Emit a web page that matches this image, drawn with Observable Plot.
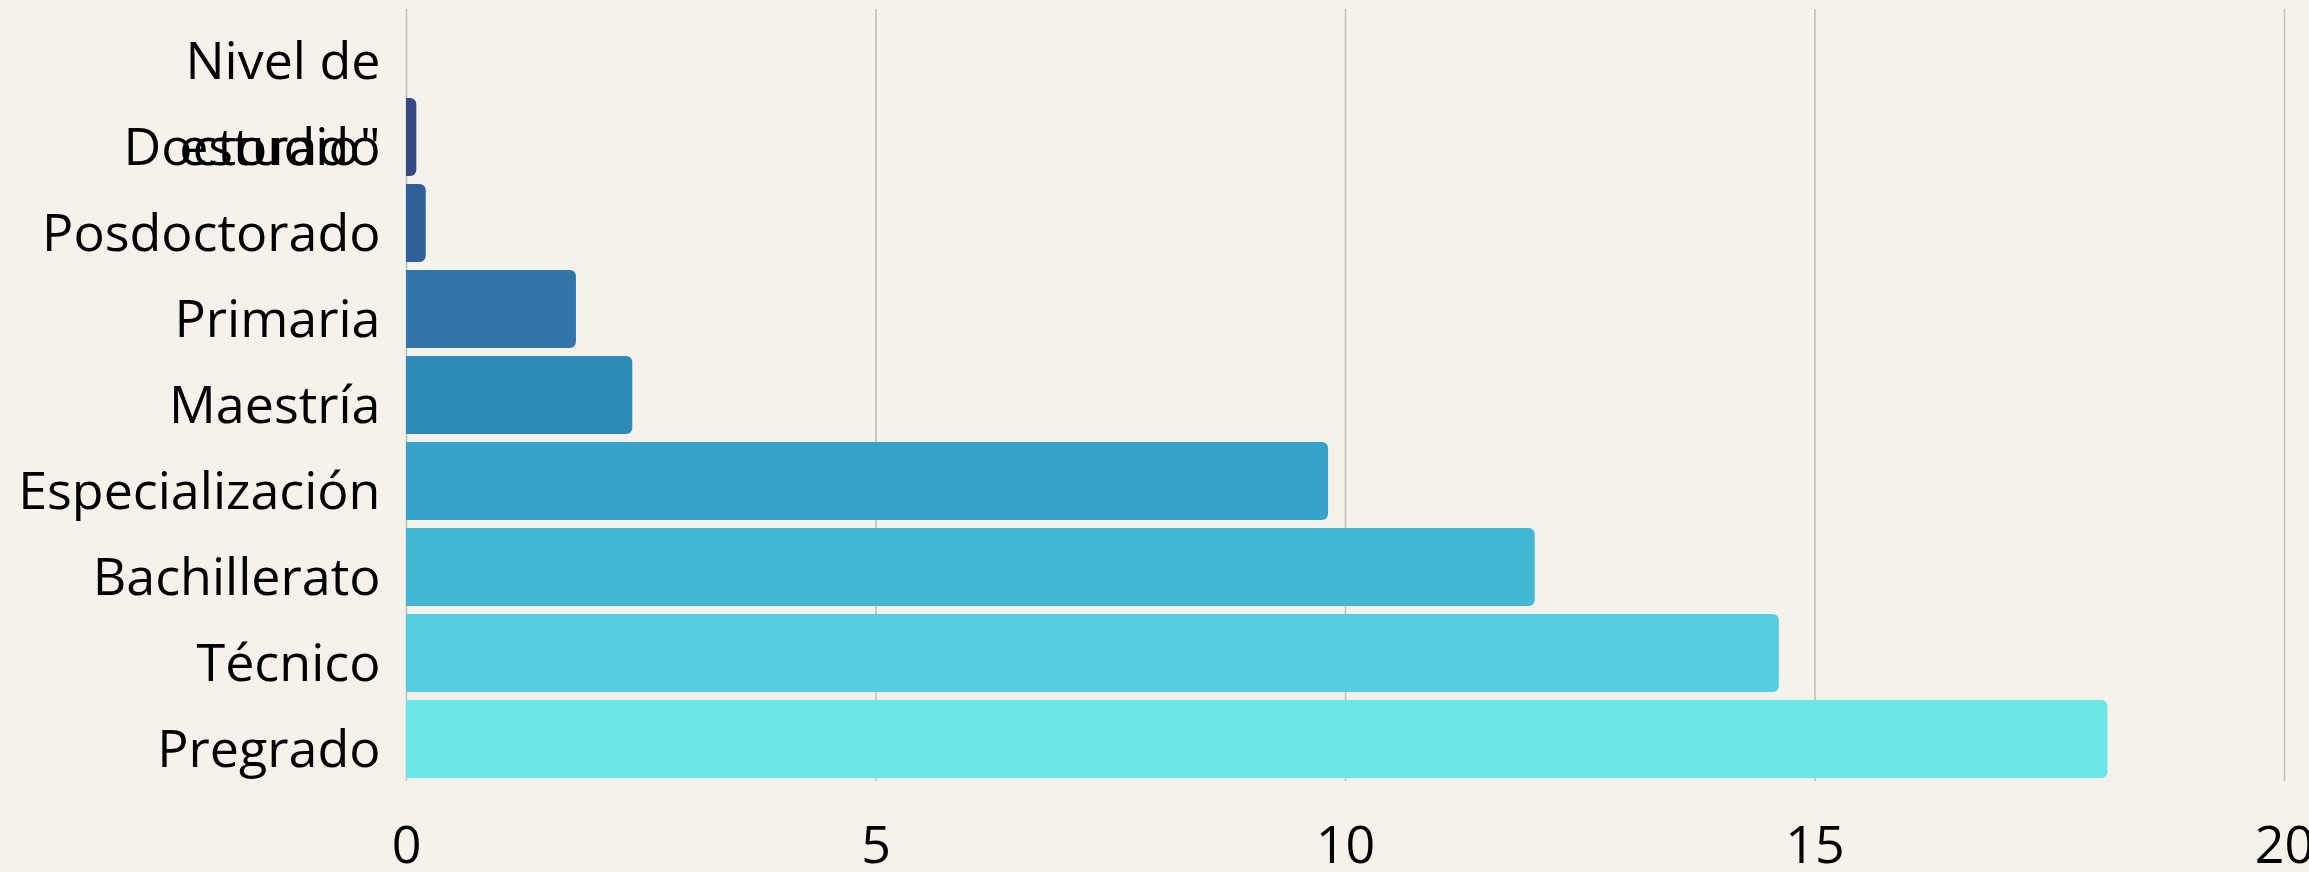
<!DOCTYPE html>
<html>
<head>
<meta charset="utf-8">
<script src="https://cdn.jsdelivr.net/npm/d3@7"></script>
<script src="https://cdn.jsdelivr.net/npm/@observablehq/plot@0.6"></script>
<style>
  html, body { margin: 0; padding: 0; background: #f5f2eb; overflow: hidden; }
  #chart svg { display: block; }
</style>
</head>
<body>
<div id="chart"></div>
<script>
// Categories (top to bottom); first row is the header row with no bar
const categories = ["Nivel de", "Doctorado", "Posdoctorado", "Primaria", "Maestría", "Especialización", "Bachillerato", "Técnico", "Pregrado"];
const values = [null, 0.11, 0.21, 1.81, 2.41, 9.82, 12.02, 14.62, 18.12];
const barColors = [null, "#354b82", "#2f6099", "#3076aa", "#2e8bb9", "#36a2c9", "#42b7d6", "#54cede", "#6be6e9"];
const xTicks = [0, 5, 10, 15, 20];
// second line of the header label, which lands on the Doctorado row
const overlayLabels = [{category: "Doctorado", text: "estudio\""}];

const rows = categories
  .map((c, i) => ({category: c, value: values[i], color: barColors[i]}))
  .filter(d => d.value != null);

const FONT = 52;

const chart = Plot.plot({
  width: 2309,
  height: 872,
  marginTop: 9,
  marginBottom: 91,
  marginLeft: 406,
  marginRight: 25,
  style: {background: "#f5f2eb", fontFamily: "'Open Sans', sans-serif", color: "#000"},
  x: {domain: [0, 20], ticks: xTicks},
  y: {domain: categories, paddingInner: 0.092, paddingOuter: 0, align: 0.5},
  color: {type: "identity"},
  marks: [
    Plot.gridX(xTicks, {stroke: "#c3bfb6", strokeOpacity: 1, strokeWidth: 1.6}),
    Plot.barX(rows, {x: "value", y: "category", fill: "color", rx2: 6}),
    Plot.axisX({ticks: xTicks, tickSize: 0, tickPadding: 45, fontSize: FONT, label: null}),
    Plot.axisY({tickSize: 0, tickPadding: 26, fontSize: FONT, dy: 11, label: null}),
    Plot.text(overlayLabels, {y: "category", text: "text", frameAnchor: "left", textAnchor: "end", dx: -26, dy: 11, fontSize: FONT, fill: "#000"})
  ]
});
document.getElementById("chart").appendChild(chart);
</script>
</body>
</html>
